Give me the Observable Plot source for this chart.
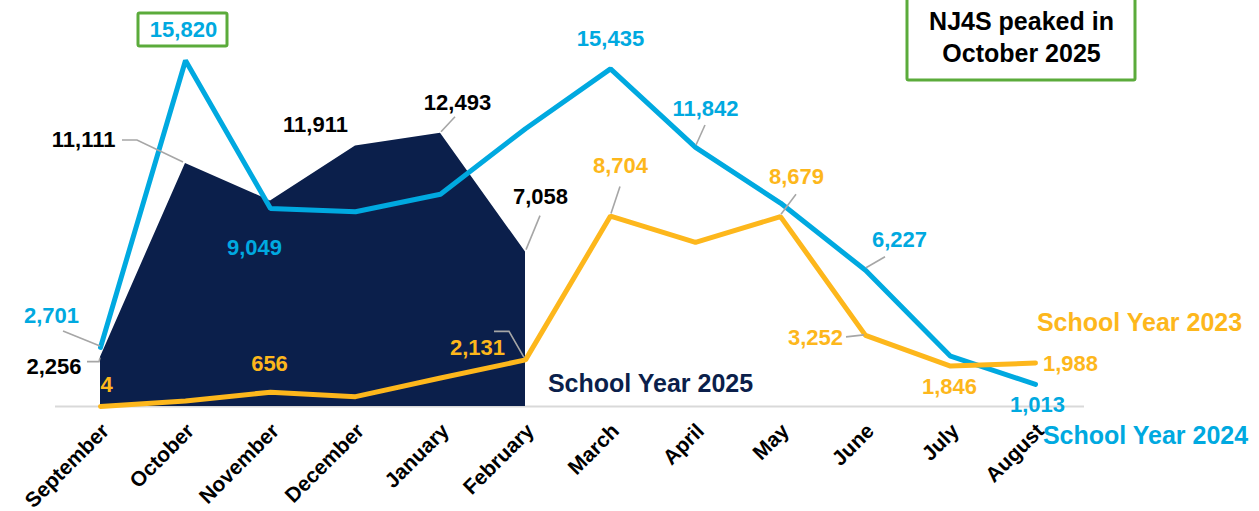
<!DOCTYPE html>
<html>
<head>
<meta charset="utf-8">
<script src="https://cdn.jsdelivr.net/npm/d3@7"></script>
<script src="https://cdn.jsdelivr.net/npm/@observablehq/plot@0.6"></script>
<style>
  html, body { margin: 0; padding: 0; background: #fff; }
  #chart svg { display: block; }
</style>
</head>
<body>
<div id="chart"></div>
<script>
// ---------- data ----------
const months = ["September","October","November","December","January","February","March","April","May","June","July","August"];
const sy2025 = [2256, 11111, 9400, 11911, 12493, 7058];
const sy2024 = [2701, 15820, 9049, 8900, 9700, 12700, 15435, 11842, 9300, 6227, 2300, 1013];
const sy2023 = [4, 250, 656, 450, 1300, 2131, 8704, 7500, 8679, 3252, 1846, 1988];
const seriesNames = {sy2025: "School Year 2025", sy2024: "School Year 2024", sy2023: "School Year 2023"};
const calloutText = ["NJ4S peaked in", "October 2025"];

// ---------- styles / layout ----------
const C = {navy: "#0b1f4b", blue: "#00a9e0", orange: "#fdb71c", green: "#5bab3b", leader: "#a6a6a6", base: "#d9d9d9", black: "#000"};
const FONT = "'Liberation Sans', Arial, sans-serif";
const series = {sy2025, sy2024, sy2023};
const colorOf = {sy2025: C.black, sy2024: C.blue, sy2023: C.orange};

// label layout: series, month index, text offset, anchor, leader offsets (px relative to point)
const labelLayout = [
  {s: "sy2024", i: 1, dx: -2, dy: -30, box: [-47, -47, 89, 33]},
  {s: "sy2025", i: 1, dx: -70, dy: -23, anchor: "end", leader: [[-63,-23],[-48,-23],[-2,-1]]},
  {s: "sy2024", i: 0, dx: -49, dy: -31, leader: [[-37,-16],[0,-1]]},
  {s: "sy2025", i: 0, dx: -19, dy: 10, anchor: "end", leader: [[-13,5],[-1,5],[0,1]]},
  {s: "sy2023", i: 0, dx: 6, dy: -21},
  {s: "sy2024", i: 2, dx: -16, dy: 39},
  {s: "sy2023", i: 2, dx: -1, dy: -28},
  {s: "sy2025", i: 3, dx: -40, dy: -21},
  {s: "sy2025", i: 4, dx: 17, dy: -30, leader: [[1,-1],[15,-16]]},
  {s: "sy2025", i: 5, dx: 15, dy: -55, leader: [[1,-2],[15,-36]]},
  {s: "sy2023", i: 5, dx: -48, dy: -12, leader: [[-31,-28],[-16,-28],[-1,-2]]},
  {s: "sy2024", i: 6, dx: 0, dy: -30},
  {s: "sy2023", i: 6, dx: 10, dy: -50, leader: [[10,-29],[1,-2]]},
  {s: "sy2024", i: 7, dx: 10, dy: -39, leader: [[10,-22],[1,-2]]},
  {s: "sy2023", i: 8, dx: 16, dy: -40, leader: [[16,-22],[1,-2]]},
  {s: "sy2024", i: 9, dx: 34, dy: -30, leader: [[20,-13],[1,-2]]},
  {s: "sy2023", i: 9, dx: -50, dy: 3, leader: [[-19,2],[-1,0]]},
  {s: "sy2023", i: 10, dx: -1, dy: 21},
  {s: "sy2023", i: 11, dx: 35, dy: 1},
  {s: "sy2024", i: 11, dx: 2, dy: 21}
];

// tables built from the arrays
const rows = (arr) => arr.map((v, i) => ({month: months[i], value: v}));
const t2025 = rows(sy2025), t2024 = rows(sy2024), t2023 = rows(sy2023);

const labelMarks = labelLayout.map(L => Plot.text([{month: months[L.i], value: series[L.s][L.i]}], {
  x: "month", y: "value", text: d => d.value.toLocaleString("en-US"),
  dx: L.dx, dy: L.dy, textAnchor: L.anchor || "middle",
  fill: colorOf[L.s], fontSize: 22, fontWeight: "bold", fontFamily: FONT
}));

// leaders and boxes drawn relative to scaled data points
const annotationMark = (index, scales) => {
  const g = d3.create("svg:g");
  for (const L of labelLayout) {
    const px = scales.x(months[L.i]), py = scales.y(series[L.s][L.i]);
    if (L.leader) {
      g.append("path")
        .attr("d", "M" + L.leader.map(([a, b]) => [px + a, py + b].join(",")).join("L"))
        .attr("fill", "none").attr("stroke", C.leader).attr("stroke-width", 1.6);
    }
    if (L.box) {
      const [bx, by, bw, bh] = L.box;
      g.append("rect").attr("x", px + bx).attr("y", py + by).attr("width", bw).attr("height", bh)
        .attr("fill", "none").attr("stroke", C.green).attr("stroke-width", 3).attr("rx", 1.5);
    }
  }
  // callout box next to the August column, top of the y domain
  const cx = scales.x("August"), cy = scales.y(16000);
  g.append("rect").attr("x", cx - 128).attr("y", cy - 70).attr("width", 228).attr("height", 94)
    .attr("fill", "none").attr("stroke", C.green).attr("stroke-width", 3).attr("rx", 1.5);
  return g.node();
};

const plot = Plot.plot({
  width: 1259,
  height: 511,
  marginLeft: 55,
  marginRight: 175,
  marginTop: 0,
  marginBottom: 105,
  x: {type: "point", domain: months, range: [97, 1038], padding: 0},
  y: {domain: [0, 16000], range: [406, 56], axis: null},
  style: {fontFamily: FONT, background: "#fff", overflow: "visible"},
  marks: [
    Plot.ruleY([0], {stroke: C.base, strokeWidth: 2}),
    Plot.areaY(t2025, {x: "month", y: "value", fill: C.navy, curve: "linear"}),
    Plot.line(t2024, {x: "month", y: "value", stroke: C.blue, strokeWidth: 5, strokeLinejoin: "miter"}),
    Plot.line(t2023, {x: "month", y: "value", stroke: C.orange, strokeWidth: 5, strokeLinejoin: "miter"}),
    annotationMark,
    ...labelMarks,
    Plot.text([{month: "March", value: 0}], {x: "month", y: "value", text: () => seriesNames.sy2025,
      dx: 40, dy: -23, fill: C.navy, fontSize: 25, fontWeight: "bold", fontFamily: FONT}),
    Plot.text([{month: "August", value: sy2023[11]}], {x: "month", y: "value", text: () => seriesNames.sy2023,
      dx: 104, dy: -40, fill: C.orange, fontSize: 25, fontWeight: "bold", fontFamily: FONT}),
    Plot.text([{month: "August", value: sy2024[11]}], {x: "month", y: "value", text: () => seriesNames.sy2024,
      dx: 110, dy: 52, fill: C.blue, fontSize: 25, fontWeight: "bold", fontFamily: FONT}),
    Plot.text([{month: "August", value: 16000}], {x: "month", y: "value", text: () => calloutText.join("\n"),
      dx: -14, dy: -21, lineHeight: 1.3, fill: C.black, fontSize: 25, fontWeight: "bold", fontFamily: FONT}),
    Plot.axisX({tickSize: 0, tickPadding: 21, dx: 5, tickRotate: -45, fontSize: 21, fontWeight: "bold", fill: C.black, label: null})
  ]
});
document.getElementById("chart").appendChild(plot);
</script>
</body>
</html>
